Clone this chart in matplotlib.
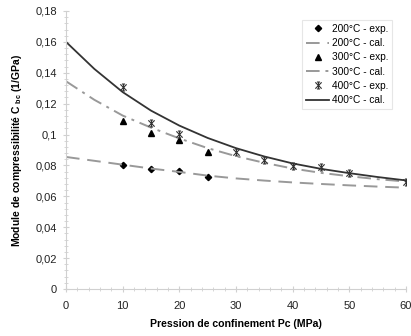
import matplotlib
matplotlib.use("Agg")
import matplotlib.pyplot as plt
from matplotlib.path import Path
from matplotlib.ticker import MultipleLocator, FuncFormatter

# --- Data ---
P_EXP_200 = [10, 15, 20, 25]
C_EXP_200 = [0.0800, 0.0775, 0.0763, 0.0727]

P_EXP_300 = [10, 15, 20, 25]
C_EXP_300 = [0.1090, 0.1009, 0.0967, 0.0885]

P_EXP_400 = [10, 15, 20, 30, 35, 40, 45, 50, 60]
C_EXP_400 = [0.1305, 0.1073, 0.1006, 0.0886, 0.0837, 0.0798, 0.0787, 0.0752, 0.0695]

P_CAL = [0, 5, 10, 15, 20, 25, 30, 35, 40, 45, 50, 55, 60]
C_CAL_200 = [0.0855, 0.0830, 0.0805, 0.0780, 0.0758, 0.0734, 0.0716, 0.0702, 0.0690,
             0.0680, 0.0671, 0.0663, 0.0656]
C_CAL_300 = [0.1345, 0.1225, 0.1123, 0.1045, 0.0975, 0.0912, 0.0860, 0.0817, 0.0780,
             0.0752, 0.0730, 0.0711, 0.0696]
C_CAL_400 = [0.1600, 0.1425, 0.1275, 0.1155, 0.1058, 0.0978, 0.0912, 0.0858, 0.0813,
             0.0778, 0.0750, 0.0725, 0.0703]

plt.rcParams['font.family'] = ['Liberation Sans', 'DejaVu Sans']
plt.rcParams['mathtext.fontset'] = 'custom'
plt.rcParams['mathtext.rm'] = 'Liberation Sans'
plt.rcParams['mathtext.bf'] = 'Liberation Sans:bold'

# Excel-style star marker: x with a vertical bar and caps
star = Path([(-1, -1), (1, 1), (-1, 1), (1, -1), (0, -1.1), (0, 1.1),
             (-0.5, 1.1), (0.5, 1.1), (-0.5, -1.1), (0.5, -1.1)],
            [Path.MOVETO, Path.LINETO] * 5)

fig = plt.figure(figsize=(4.11, 3.36), dpi=100)
ax = fig.add_axes([66 / 411, 47 / 336, 340 / 411, 278 / 336])

ax.plot(P_EXP_200, C_EXP_200, linestyle='none', marker='D', markersize=3.2,
        color='black', label='200°C - exp.')
ax.plot(P_CAL, C_CAL_200, linestyle=(0, (7, 4)), color='#999999', lw=1.4,
        label='200°C - cal.')
ax.plot(P_EXP_300, C_EXP_300, linestyle='none', marker='^', markersize=4.5,
        color='black', label='300°C - exp.')
ax.plot(P_CAL, C_CAL_300, linestyle=(0, (7, 3, 1.5, 3)), color='#999999', lw=1.4,
        label='300°C - cal.')
ax.plot(P_EXP_400, C_EXP_400, linestyle='none', marker=star, markersize=5,
        markeredgewidth=0.8, color='#333333', label='400°C - exp.')
ax.plot(P_CAL, C_CAL_400, linestyle='-', color='#333333', lw=1.3,
        label='400°C - cal.')

ax.set_xlim(0, 60)
ax.set_ylim(0, 0.18)
ax.xaxis.set_major_locator(MultipleLocator(10))
ax.xaxis.set_minor_locator(MultipleLocator(2))
ax.yaxis.set_major_locator(MultipleLocator(0.02))
ax.yaxis.set_minor_locator(MultipleLocator(0.004))
ax.yaxis.set_major_formatter(FuncFormatter(lambda v, p: f"{v:.2f}".rstrip('0').rstrip('.').replace('.', ',')))

for side in ['top', 'right']:
    ax.spines[side].set_visible(False)
for side in ['left', 'bottom']:
    ax.spines[side].set_color('#d0d0d0')
    ax.spines[side].set_linewidth(0.8)
ax.tick_params(which='both', direction='inout', color='#d0d0d0', labelsize=8,
               labelcolor='#222222')
ax.tick_params(which='major', length=5, pad=4)
ax.tick_params(which='minor', length=2.5)
ax.tick_params(axis='x', which='major', pad=6)

ax.set_xlabel('Pression de confinement Pc (MPa)', fontsize=7.6, fontweight='bold',
              labelpad=6)
ax.set_ylabel(r'Module de compressibilité C $\mathbf{_{bc}}$ (1/GPa)', fontsize=7.5,
              fontweight='bold', labelpad=8)

leg = ax.legend(loc='upper right', bbox_to_anchor=(0.96, 0.968), fontsize=7.3,
                frameon=True, fancybox=False, handlelength=2.3, handletextpad=0.25,
                labelspacing=0.42, borderpad=0.4, borderaxespad=0)
leg.get_frame().set_edgecolor('#e0e0e0')
leg.get_frame().set_linewidth(0.8)

fig.savefig('out.png', dpi=100)
